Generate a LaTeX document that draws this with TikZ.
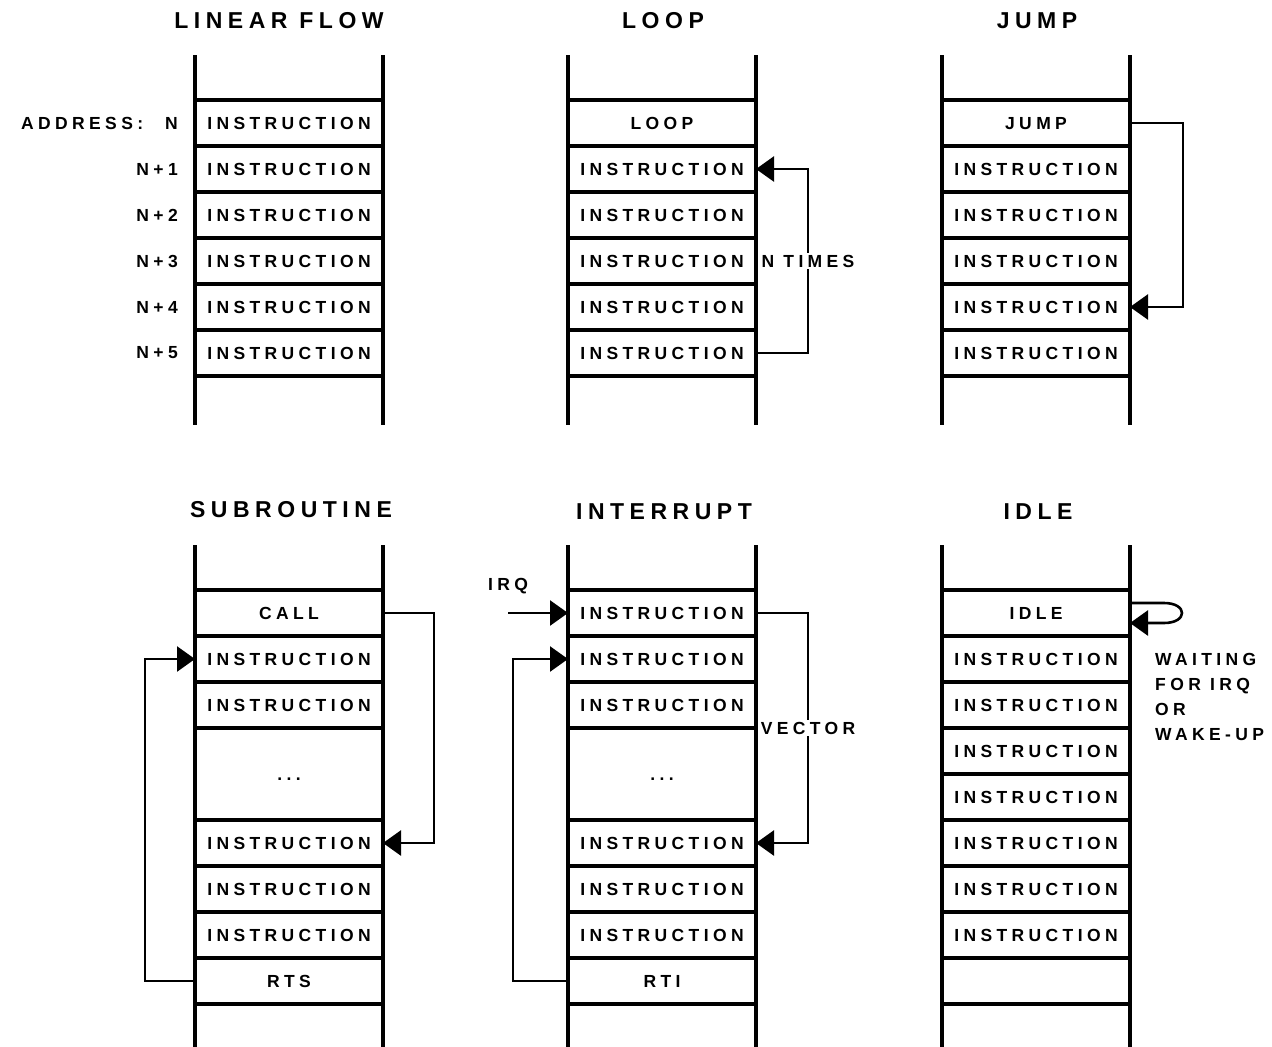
\documentclass[tikz,border=0pt]{standalone}
\usepackage{fontspec}
\setmainfont{Liberation Sans}
\newfontfamily\capsfont{Liberation Sans}[LetterSpace=25]
\newfontfamily\headfont{Liberation Sans}[LetterSpace=24]
\usetikzlibrary{arrows.meta,positioning,calc}

\begin{document}
\begin{tikzpicture}[
  x=1pt,y=-1pt,
  font=\capsfont\bfseries\fontsize{17.5}{25}\selectfont,
  cl/.style  ={draw,line width=3.4pt,outer sep=0pt,inner sep=0pt,anchor=north,
               minimum width=188pt,minimum height=46pt,text height=12.5pt,text depth=0pt},
  gap/.style ={cl,minimum height=92pt},
  rail/.style={line width=4pt},
  hd/.style  ={font=\headfont\bfseries\fontsize{23}{27}\selectfont},
  adr/.style ={inner sep=0pt},
  ar/.style  ={-{Triangle[length=18pt,width=25pt]},line width=2.6pt},
  lb/.style  ={fill=white,inner sep=2pt}
]
\useasboundingbox (0,0) rectangle (1272,1047);

% ======== headings
\node[hd] (hlf) at (279,21)  {LINEAR FLOW};
\node[hd] (hlp) at (663,21)  {LOOP};
\node[hd] (hjp) at (1037,21) {JUMP};
\node[hd] (hsr) at (291,510) {SUBROUTINE};
\node[hd] (hir) at (664,512) {INTERRUPT};
\node[hd] (hid) at (1038,512){IDLE};

% ======== linear flow
\node[cl] (lf0) at (289,100) {INSTRUCTION};
\node[cl] (lf1) at (289,146) {INSTRUCTION};
\node[cl] (lf2) at (289,192) {INSTRUCTION};
\node[cl] (lf3) at (289,238) {INSTRUCTION};
\node[cl] (lf4) at (289,284) {INSTRUCTION};
\node[cl] (lf5) at (289,330) {INSTRUCTION};
\node[adr,left=17pt of lf0] (ad0) {ADDRESS:\hspace{22pt}N};
\node[adr,left=17pt of lf1] (ad1) {N+1};
\node[adr,left=17pt of lf2] (ad2) {N+2};
\node[adr,left=17pt of lf3] (ad3) {N+3};
\node[adr,left=17pt of lf4] (ad4) {N+4};
\node[adr,left=17pt of lf5] (ad5) {N+5};

% ======== loop
\node[cl] (lp0) at (662,100) {LOOP};
\node[cl] (lp1) at (662,146) {INSTRUCTION};
\node[cl] (lp2) at (662,192) {INSTRUCTION};
\node[cl] (lp3) at (662,238) {INSTRUCTION};
\node[cl] (lp4) at (662,284) {INSTRUCTION};
\node[cl] (lp5) at (662,330) {INSTRUCTION};

% ======== jump
\node[cl] (jp0) at (1036,100) {JUMP};
\node[cl] (jp1) at (1036,146) {INSTRUCTION};
\node[cl] (jp2) at (1036,192) {INSTRUCTION};
\node[cl] (jp3) at (1036,238) {INSTRUCTION};
\node[cl] (jp4) at (1036,284) {INSTRUCTION};
\node[cl] (jp5) at (1036,330) {INSTRUCTION};

% ======== subroutine
\node[cl]  (sr0) at (289,590) {CALL};
\node[cl]  (sr1) at (289,636) {INSTRUCTION};
\node[cl]  (sr2) at (289,682) {INSTRUCTION};
\node[gap] (sr3) at (289,728) {...};
\node[cl]  (sr4) at (289,820) {INSTRUCTION};
\node[cl]  (sr5) at (289,866) {INSTRUCTION};
\node[cl]  (sr6) at (289,912) {INSTRUCTION};
\node[cl]  (sr7) at (289,958) {RTS};

% ======== interrupt
\node[cl]  (ir0) at (662,590) {INSTRUCTION};
\node[cl]  (ir1) at (662,636) {INSTRUCTION};
\node[cl]  (ir2) at (662,682) {INSTRUCTION};
\node[gap] (ir3) at (662,728) {...};
\node[cl]  (ir4) at (662,820) {INSTRUCTION};
\node[cl]  (ir5) at (662,866) {INSTRUCTION};
\node[cl]  (ir6) at (662,912) {INSTRUCTION};
\node[cl]  (ir7) at (662,958) {RTI};
\node[adr] (irq) at (508,586) {IRQ};

% ======== idle
\node[cl] (id0) at (1036,590) {IDLE};
\node[cl] (id1) at (1036,636) {INSTRUCTION};
\node[cl] (id2) at (1036,682) {INSTRUCTION};
\node[cl] (id3) at (1036,728) {INSTRUCTION};
\node[cl] (id4) at (1036,774) {INSTRUCTION};
\node[cl] (id5) at (1036,820) {INSTRUCTION};
\node[cl] (id6) at (1036,866) {INSTRUCTION};
\node[cl] (id7) at (1036,912) {INSTRUCTION};
\node[cl] (id8) at (1036,958) {};
\node[adr,align=left,anchor=north west] (wt) at (1155,653)
  {WAITING\\FOR IRQ\\OR\\WAKE-UP};

% ======== rails
\draw[rail] (195,55) -- (195,425)   (383,55) -- (383,425);
\draw[rail] (568,55) -- (568,425)   (756,55) -- (756,425);
\draw[rail] (942,55) -- (942,425)   (1130,55) -- (1130,425);
\draw[rail] (195,545) -- (195,1047) (383,545) -- (383,1047);
\draw[rail] (568,545) -- (568,1047) (756,545) -- (756,1047);
\draw[rail] (942,545) -- (942,1047) (1130,545) -- (1130,1047);

% ======== flow arrows
\draw[ar] (lp5.east) -- ++(52,0) |- (lp1.east) node[lb,pos=0.25] {N TIMES};
\draw[ar] (jp0.east) -- ++(53,0) |- (jp4.east);
\draw[ar] (sr0.east) -- ++(51,0) |- (sr4.east);
\draw[ar] (sr7.west) -- ++(-50,0) |- (sr1.west);
\draw[ar] (irq.south |- ir0.west) -- (ir0.west);
\draw[ar] (ir0.east) -- ++(52,0) |- (ir4.east) node[lb,pos=0.25] {VECTOR};
\draw[ar] (ir7.west) -- ++(-55,0) |- (ir1.west);
\draw[ar] ([yshift=10pt]id0.east) -- ++(34,0)
  .. controls +(24,0) and +(24,0) .. ++(0,20) -- ([yshift=-10pt]id0.east);
\end{tikzpicture}
\end{document}
